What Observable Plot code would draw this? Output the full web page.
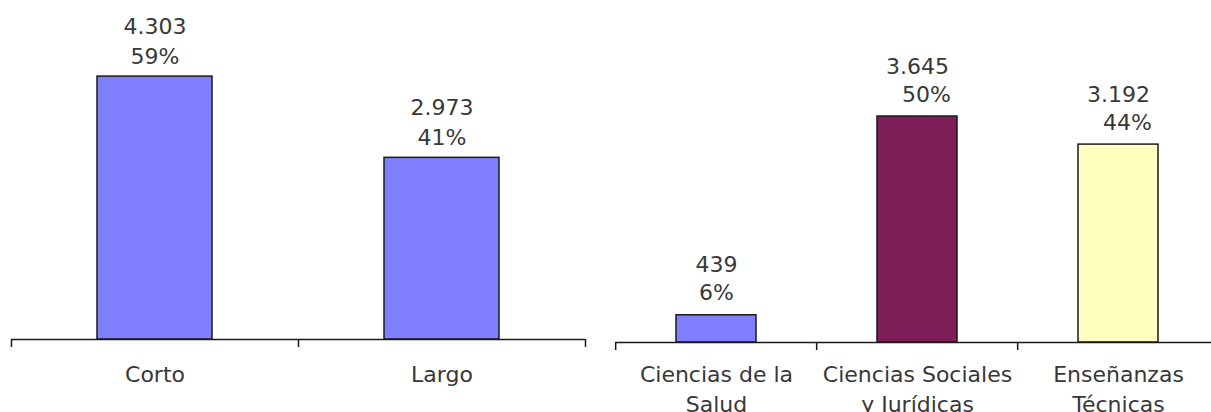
<!DOCTYPE html>
<html><head><meta charset="utf-8">
<script src="https://cdn.jsdelivr.net/npm/d3@7"></script>
<script src="https://cdn.jsdelivr.net/npm/@observablehq/plot@0.6"></script>
<style>
html,body{margin:0;padding:0;background:#fff;overflow:hidden;}
#wrap{display:flex;width:1211px;height:412px;overflow:hidden;}
#wrap svg{display:block;overflow:hidden;flex:none;}
</style></head><body><div id="wrap"></div>
<script>
// Data
const durationCats = ["Corto", "Largo"];
const durationValues = [4303, 2973];
const durationPcts = [59, 41];

const fieldCats = ["Ciencias de la\nSalud", "Ciencias Sociales\ny Jurídicas", "Enseñanzas\nTécnicas"];
const fieldValues = [439, 3645, 3192];
const fieldPcts = [6, 50, 44];

const es = d3.formatLocale({decimal: ",", thousands: ".", grouping: [3], currency: ["", " €"]});
const fmt = es.format(",");
const ink = "#1a1a1a";
const txt = "#383838";
const font = "'DejaVu Sans', Verdana, sans-serif";

function panel(o) {
  const n = o.cats.length;
  const step = (o.xRange[1] - o.xRange[0]) / n;
  const data = o.cats.map((c, i) => ({c, v: o.values[i], p: o.pcts[i], i}));
  const tick = {x: "c", y1: 0, y2: 0, insetBottom: -8, stroke: ink, strokeWidth: 1.5};
  return Plot.plot({
    width: o.width, height: 412,
    marginLeft: o.xRange[0], marginRight: Math.max(0, o.width - o.xRange[1]),
    marginTop: 0, marginBottom: 0,
    style: {fontFamily: font, fontSize: "22px", background: "white", color: txt},
    x: {domain: o.cats, range: o.xRange, paddingInner: 0.6, paddingOuter: 0.3, axis: null},
    y: {domain: [0, 5000], range: [o.base, o.base - o.k * 5000], axis: null},
    color: {domain: o.cats, range: o.colors},
    marks: [
      Plot.barY(data, {x: "c", y: "v", fill: "c", stroke: ink, strokeWidth: 1.5}),
      Plot.ruleY([0], {stroke: ink, strokeWidth: 1.5}),
      Plot.ruleX(data, {...tick, dx: -step / 2}),
      Plot.ruleX(data.slice(-1), {...tick, dx: step / 2}),
      Plot.text(data, {x: "c", y: "v", text: d => fmt(d.v), lineAnchor: "bottom",
        dy: -(o.gap + o.lh), fill: txt, fontSize: 22, fontFamily: font}),
      Plot.text(data, {x: "c", y: "v", text: d => d.p + "%", lineAnchor: "bottom",
        dy: -o.gap, dx: 0, filter: d => !o.shiftPct || d.i === 0, fill: txt, fontSize: 22, fontFamily: font}),
      Plot.text(data, {x: "c", y: "v", text: d => d.p + "%", lineAnchor: "bottom",
        dy: -o.gap, dx: 9, filter: d => o.shiftPct && d.i > 0, fill: txt, fontSize: 22, fontFamily: font}),
      Plot.text(data, {x: "c", y: 0, text: "c", lineAnchor: "top", lineHeight: 1.36,
        dy: o.labelDy, fill: txt, fontSize: 22, fontFamily: font})
    ]
  });
}

const wrap = document.getElementById("wrap");
wrap.append(panel({
  cats: durationCats, values: durationValues, pcts: durationPcts,
  colors: ["#8080FF", "#8080FF"],
  width: 600, xRange: [11, 585], base: 339, k: 0.0611,
  gap: 13, lh: 30, labelDy: 21, shiftPct: false
}));
wrap.append(panel({
  cats: fieldCats, values: fieldValues, pcts: fieldPcts,
  colors: ["#8080FF", "#7F1F5A", "#FFFFC0"],
  width: 611, xRange: [15, 620], base: 342, k: 0.062,
  gap: 15, lh: 28, labelDy: 18, shiftPct: true
}));
</script>
</body></html>
